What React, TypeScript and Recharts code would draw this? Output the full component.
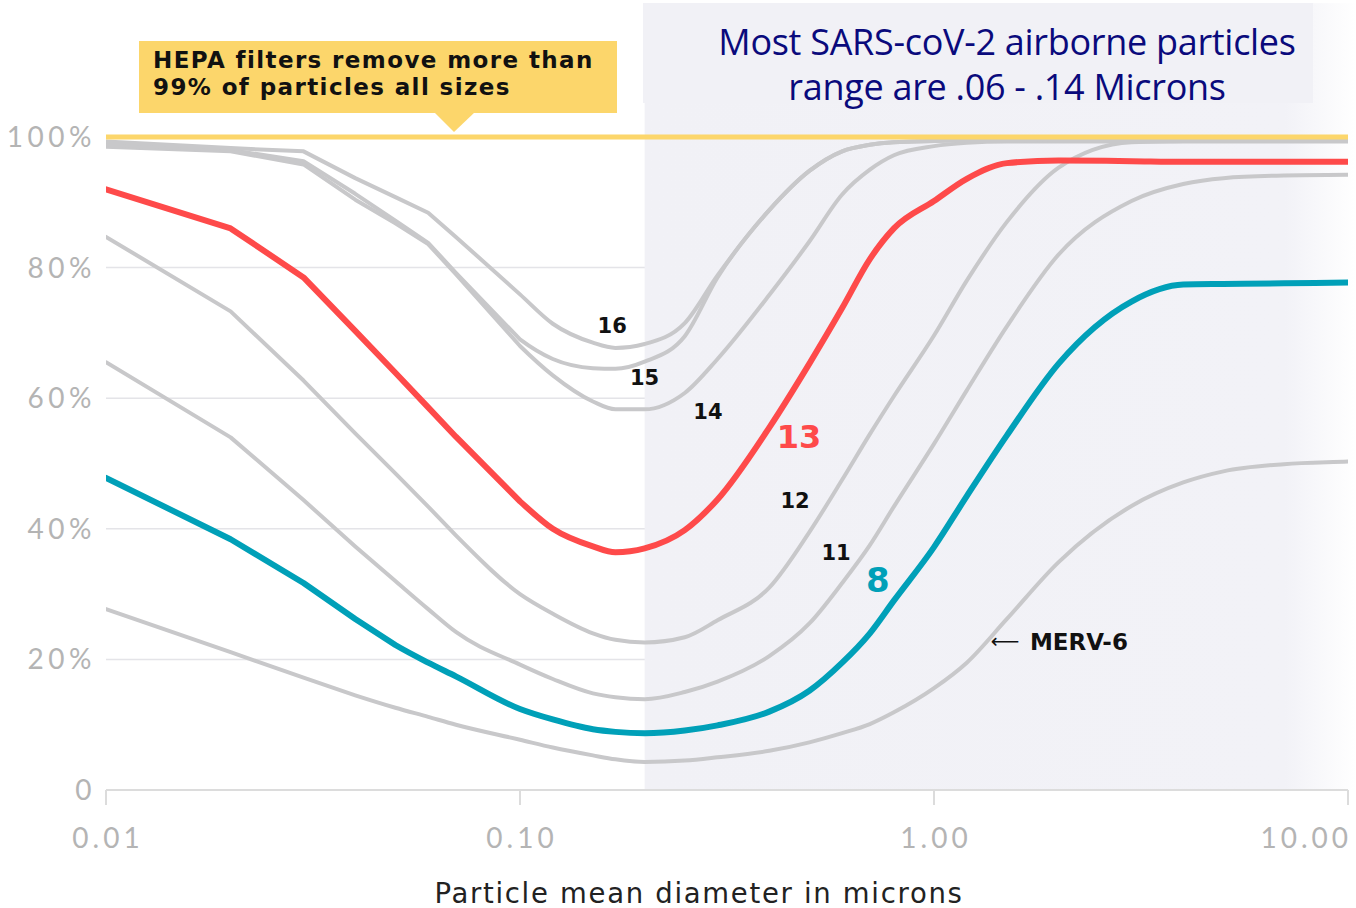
import React from 'react';
import {
  LineChart, Line, XAxis, YAxis, CartesianGrid, ReferenceLine, ReferenceArea, ReferenceDot,
} from 'recharts';

// Particle mean diameter in microns (log axis)
const SIZES = [0.01, 0.02, 0.03, 0.04, 0.05, 0.06, 0.07, 0.1, 0.12, 0.15, 0.17, 0.2, 0.25, 0.3, 0.4, 0.5, 0.6, 0.7, 0.8, 1, 1.2, 1.5, 2, 3, 4, 5, 7, 10];

// Removal efficiency (%) per MERV rating
const MERV16 = [99.3, 98.3, 97.8, 93.7, 90.8, 88.4, 84.7, 75.9, 71.4, 68.5, 67.7, 68.3, 71.5, 78.8, 88.8, 94.8, 97.8, 98.8, 99.2, 99.4, 99.5, 99.5, 99.6, 99.6, 99.6, 99.6, 99.6, 99.6];
const MERV15 = [98.8, 98.0, 96.3, 91.3, 87.2, 83.8, 79.2, 69, 66, 64.6, 64.5, 65.6, 69.5, 78.5, 88.8, 94.8, 97.8, 98.8, 99.2, 99.4, 99.5, 99.5, 99.5, 99.5, 99.5, 99.5, 99.5, 99.5];
const MERV14 = [98.5, 97.8, 95.8, 90.4, 86.8, 83.6, 79, 68, 63.5, 59.5, 58.3, 58.3, 60.8, 66, 75.8, 84, 91.2, 95, 97.2, 98.6, 99.1, 99.3, 99.3, 99.3, 99.3, 99.3, 99.3, 99.3];
const MERV13 = [92, 86, 78.5, 70.3, 63.9, 58.6, 54.1, 44.2, 40, 37.3, 36.4, 37, 39.8, 44.5, 55.5, 65.3, 73.8, 81.3, 86, 90.2, 93.6, 96, 96.4, 96.3, 96.2, 96.2, 96.2, 96.2];
const MERV12 = [84.7, 73.3, 62.7, 54.6, 48.5, 43.4, 39.0, 30, 27, 24, 23, 22.6, 23.4, 26.0, 31, 39.5, 47.5, 54.5, 60.3, 69.6, 78, 87, 95.3, 99.2, 99.4, 99.5, 99.5, 99.5];
const MERV11 = [65.5, 54, 44.4, 37.3, 32, 27.7, 24.2, 19.2, 17, 14.8, 14.2, 13.9, 15, 16.6, 20.5, 25.5, 31.7, 37.5, 43.4, 53, 61.2, 71, 82, 90.2, 92.8, 93.7, 94.1, 94.2];
const MERV8 = [47.8, 38.4, 31.7, 26.2, 22.2, 19.5, 17.4, 12.4, 10.8, 9.3, 8.9, 8.7, 9.1, 9.9, 12.0, 15.2, 19.5, 24, 29, 37.2, 45, 54.3, 65.3, 74.8, 77.4, 77.5, 77.6, 77.7];
const MERV6 = [27.7, 21.1, 17.2, 14.5, 12.6, 11.2, 10.0, 7.7, 6.5, 5.3, 4.7, 4.3, 4.5, 5.0, 6.0, 7.3, 8.7, 10.1, 11.9, 15.6, 19.5, 26.2, 34.9, 43.5, 47.1, 48.8, 49.9, 50.3];

const X_TICKS = [0.01, 0.1, 1, 10];
const X_TICK_LABELS = ['0.01', '0.10', '1.00', '10.00'];
const Y_TICKS = [0, 20, 40, 60, 80, 100];
const Y_TICK_LABELS = ['0', '20%', '40%', '60%', '80%', '100%'];

const HEPA_LEVEL = 100;
const SHADE_FROM = 0.2;
const SHADE_TO = 10.45;
const SHADE_TOP = 120.5;

const HEPA_TEXT = ['HEPA filters remove more than', '99% of particles all sizes'];
const TITLE_TEXT = ['Most SARS-coV-2 airborne particles', 'range are .06 - .14 Microns'];
const X_TITLE = 'Particle mean diameter in microns';

const LINE_LABELS = [
  { text: '16', x: 0.167, y: 71.2, color: '#111', size: 21, weight: 700 },
  { text: '15', x: 0.2, y: 63.1, color: '#111', size: 21, weight: 700 },
  { text: '14', x: 0.2845, y: 57.9, color: '#111', size: 21, weight: 700 },
  { text: '13', x: 0.472, y: 54.1, color: '#fe4a4a', size: 32, weight: 700 },
  { text: '12', x: 0.4617, y: 44.3, color: '#111', size: 21, weight: 700 },
  { text: '11', x: 0.58, y: 36.3, color: '#111', size: 21, weight: 700 },
  { text: '8', x: 0.732, y: 32.2, color: '#00a0b8', size: 34, weight: 700 },
  { text: '\u27f5', x: 1.484, y: 22.9, color: '#111', size: 20, weight: 400 },
  { text: 'MERV-6', x: 2.239, y: 22.7, color: '#111', size: 23, weight: 700 },
];

const GRAY = '#c8c8ca';
const RED = '#fe4a4a';
const TEAL = '#00a0b8';
const YELLOW = '#fcd66b';
const TICK_GRAY = '#b4b4b4';
const SHADE = '#f1f1f6';

const rows = SIZES.map((x, i) => ({
  x,
  m16: MERV16[i], m15: MERV15[i], m14: MERV14[i], m13: MERV13[i],
  m12: MERV12[i], m11: MERV11[i], m8: MERV8[i], m6: MERV6[i],
}));

// Curve: straight segments for the first `linearUntil` segments, monotone cubic afterwards.
function hybridCurve(linearUntil: number) {
  return function (context: any) {
    let xs: number[] = [];
    let ys: number[] = [];
    return {
      areaStart() {},
      areaEnd() {},
      lineStart() { xs = []; ys = []; },
      point(x: number, y: number) { xs.push(+x); ys.push(+y); },
      lineEnd() {
        const n = xs.length;
        if (!n) return;
        context.moveTo(xs[0], ys[0]);
        if (n === 1) return;
        const m: number[] = [];
        for (let i = 0; i < n - 1; i++) m.push((ys[i + 1] - ys[i]) / (xs[i + 1] - xs[i]));
        const t: number[] = new Array(n);
        t[0] = m[0];
        t[n - 1] = m[n - 2];
        for (let i = 1; i < n - 1; i++) {
          const s0 = m[i - 1];
          const s1 = m[i];
          const h0 = xs[i] - xs[i - 1];
          const h1 = xs[i + 1] - xs[i];
          const p = (s0 * h1 + s1 * h0) / (h0 + h1);
          t[i] = (Math.sign(s0) + Math.sign(s1)) * Math.min(Math.abs(s0), Math.abs(s1), 0.5 * Math.abs(p)) || 0;
        }
        for (let i = 0; i < n - 1; i++) {
          if (i < linearUntil) {
            context.lineTo(xs[i + 1], ys[i + 1]);
          } else {
            const h = (xs[i + 1] - xs[i]) / 3;
            context.bezierCurveTo(xs[i] + h, ys[i] + h * t[i], xs[i + 1] - h, ys[i + 1] - h * t[i + 1], xs[i + 1], ys[i + 1]);
          }
        }
      },
    };
  };
}

const SERIES = [
  { key: 'm6', color: GRAY, width: 4, linear: 3 },
  { key: 'm11', color: GRAY, width: 4, linear: 4 },
  { key: 'm12', color: GRAY, width: 4, linear: 6 },
  { key: 'm14', color: GRAY, width: 4, linear: 7 },
  { key: 'm15', color: GRAY, width: 4, linear: 7 },
  { key: 'm16', color: GRAY, width: 4, linear: 7 },
  { key: 'm13', color: RED, width: 6, linear: 7 },
  { key: 'm8', color: TEAL, width: 6, linear: 4 },
];

const XTick = (props: any) => {
  const { x, y, payload, index } = props;
  const last = index === X_TICKS.length - 1;
  return (
    <text x={last ? x + 4 : x + 2} y={y + 41} textAnchor={last ? 'end' : 'middle'}
      fill={TICK_GRAY} fontSize={28} fontFamily="Lato" fontWeight={400} letterSpacing={4}>
      {X_TICK_LABELS[X_TICKS.indexOf(payload.value)]}
    </text>
  );
};

const YTick = (props: any) => {
  const { x, y, payload } = props;
  return (
    <text x={x + 4} y={y} dy="0.36em" textAnchor="end" fill={TICK_GRAY} fontSize={28}
      fontFamily="Lato" fontWeight={400} letterSpacing={4.5}>
      {Y_TICK_LABELS[Y_TICKS.indexOf(payload.value)]}
    </text>
  );
};

const ShadeShape = (props: any) => {
  const { x, y, width, height } = props;
  return (
    <g>
      <defs>
        <linearGradient id="shadeFade" x1="0" y1="0" x2="1" y2="0">
          <stop offset="0%" stopColor={SHADE} />
          <stop offset="90%" stopColor="#f2f2f7" />
          <stop offset="100%" stopColor="#ffffff" />
        </linearGradient>
      </defs>
      <rect x={x} y={y} width={width} height={height} fill="url(#shadeFade)" />
    </g>
  );
};

export default function App() {
  return (
    <div style={{ position: 'absolute', left: 0, top: 0, width: 1356, height: 908, background: '#fff', fontFamily: 'Lato', overflow: 'hidden' }}>
      <LineChart width={1356} height={908} data={rows} margin={{ top: 137, right: 8, bottom: 0, left: 0 }}>
        <ReferenceArea x1={SHADE_FROM} x2={SHADE_TO} y1={0} y2={SHADE_TOP} ifOverflow="visible" shape={<ShadeShape />} />
        <CartesianGrid vertical={false} stroke="#e4e4e8" strokeWidth={1.5} />
        <XAxis dataKey="x" type="number" scale="log" domain={[0.01, 10]} ticks={X_TICKS} allowDataOverflow
          height={118} stroke="#dcdcdc" strokeWidth={2} tickSize={15} tickLine={{ stroke: '#dcdcdc', strokeWidth: 2 }}
          tick={<XTick />} interval={0} />
        <YAxis type="number" domain={[0, 100]} ticks={Y_TICKS} width={106} axisLine={false} tickLine={false}
          tickSize={0} tickMargin={14} tick={<YTick />} interval={0} />
        {SERIES.map((s) => (
          <Line key={s.key} dataKey={s.key} stroke={s.color} strokeWidth={s.width} dot={false}
            type={hybridCurve(s.linear) as any} isAnimationActive={false} strokeLinejoin="round" strokeLinecap="round" />
        ))}
        <ReferenceLine y={HEPA_LEVEL} stroke={YELLOW} strokeWidth={5} ifOverflow="visible"
          segment={[{ x: 0.0098, y: HEPA_LEVEL }, { x: SHADE_TO, y: HEPA_LEVEL }]} />
        {LINE_LABELS.map((l) => (
          <ReferenceDot key={l.text} x={l.x} y={l.y} r={0} fill="none" stroke="none" ifOverflow="visible"
            label={{ value: l.text, position: 'center', fill: l.color, fontSize: l.size, fontWeight: l.weight, fontFamily: 'DejaVu Sans' }} />
        ))}
      </LineChart>

      {/* x axis title */}
      <div style={{ position: 'absolute', left: 200, width: 998, top: 875, textAlign: 'center', fontFamily: 'DejaVu Sans', fontSize: 27.5, color: '#222', letterSpacing: 1.7, lineHeight: '36px', whiteSpace: 'nowrap' }}>
        {X_TITLE}
      </div>

      {/* HEPA callout */}
      <div style={{ position: 'absolute', left: 139, top: 41, width: 478, height: 72, background: YELLOW }} />
      <div style={{ position: 'absolute', left: 434, top: 112, width: 0, height: 0, borderLeft: '20px solid transparent', borderRight: '21px solid transparent', borderTop: `20px solid ${YELLOW}` }} />
      <div style={{ position: 'absolute', left: 153, top: 47, fontFamily: 'DejaVu Sans', fontWeight: 700, fontSize: 23, lineHeight: '27px', letterSpacing: 1.4, color: '#111', whiteSpace: 'nowrap' }}>
        {HEPA_TEXT.map((t) => <div key={t}>{t}</div>)}
      </div>

      {/* title */}
      <div style={{ position: 'absolute', left: 643, top: 3, width: 670, height: 100, background: SHADE }} />
      <div style={{ position: 'absolute', left: 700, top: 19, width: 614, textAlign: 'center', fontFamily: 'Open Sans', fontSize: 36, fontWeight: 500, lineHeight: '45px', color: '#0a0a7c', letterSpacing: -0.3, whiteSpace: 'nowrap' }}>
        {TITLE_TEXT.map((t) => <div key={t}>{t}</div>)}
      </div>
    </div>
  );
}
